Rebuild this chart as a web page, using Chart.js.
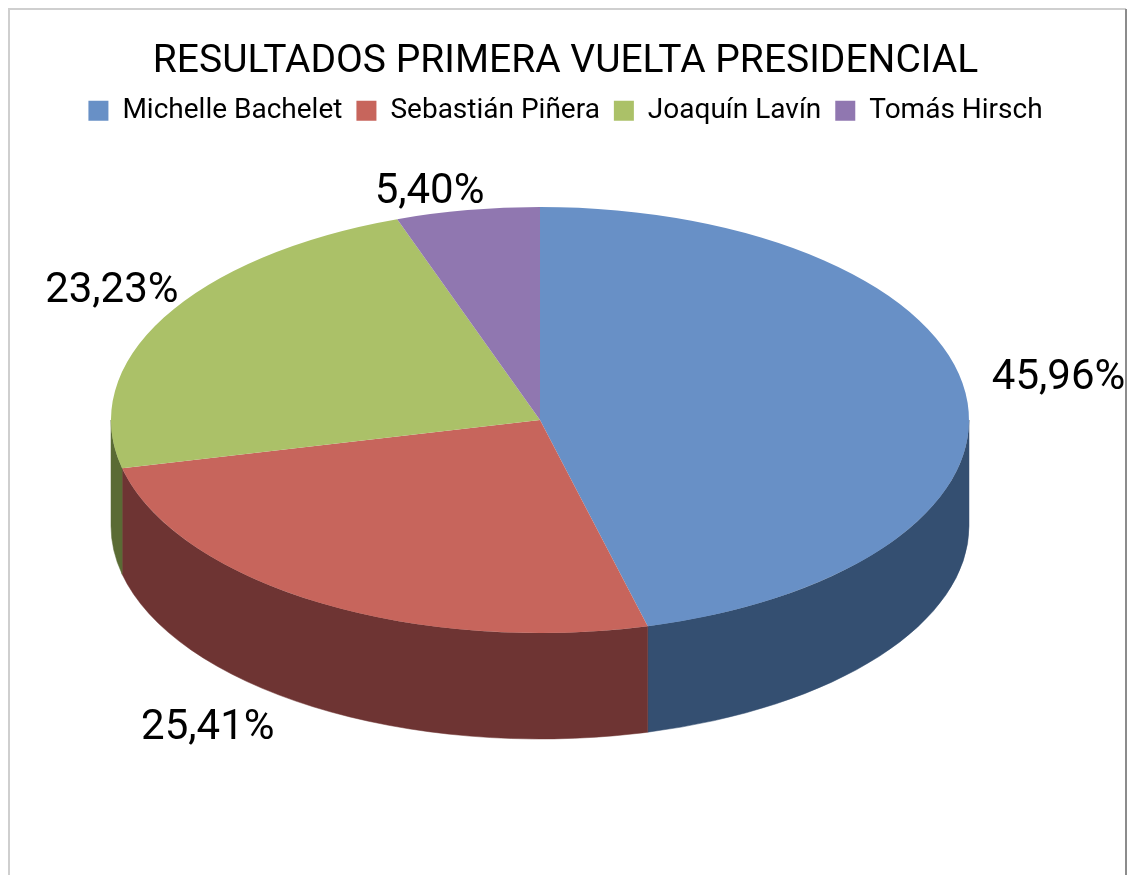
<!DOCTYPE html>
<html>
<head>
<meta charset="utf-8">
<script src="https://cdn.jsdelivr.net/npm/chart.js@4.4.1/dist/chart.umd.min.js"></script>
<style>
  html, body { margin: 0; padding: 0; background: #ffffff; }
  #wrap { position: relative; width: 1131px; height: 875px; }
</style>
</head>
<body>
<div id="wrap"><canvas id="c" width="1131" height="875"></canvas></div>
<script>
// ---- data ----
const candidates = ['Michelle Bachelet', 'Sebastián Piñera', 'Joaquín Lavín', 'Tomás Hirsch'];
const percentages = [45.96, 25.41, 23.23, 5.40];
const valueLabels = ['45,96%', '25,41%', '23,23%', '5,40%'];

// ---- styles ----
const topColors  = ['#6890C6', '#C7655C', '#ABC168', '#9077B0'];
const sideColors = ['#344F71', '#6E3433', '#5A6B34', '#4B3B60'];
const FONT = 'Roboto, "Liberation Sans", Arial, sans-serif';

// 3D projection of the library's pie (layout, not data)
const proj = { cx: 540, cy: 420, rx: 429, ry: 213, depth: 106 };
// label offsets relative to the projected slice-middle point on the rim
const labelOffsets = [[93, -15], [-110, 126], [-52, -26], [-38, -18]];

function norm(a) {
  while (a < -Math.PI / 2) a += 2 * Math.PI;
  while (a >= 1.5 * Math.PI) a -= 2 * Math.PI;
  return a;
}

const pie3d = {
  id: 'pie3d',
  beforeDraw(chart) {
    const ctx = chart.ctx;
    ctx.save();
    ctx.lineWidth = 2;
    ctx.strokeStyle = '#cfcfcf';
    ctx.beginPath();
    ctx.moveTo(9, 880); ctx.lineTo(9, 9); ctx.lineTo(1126, 9);
    ctx.stroke();
    ctx.strokeStyle = '#8c8c8c';
    ctx.beginPath();
    ctx.moveTo(1126, 9); ctx.lineTo(1126, 880);
    ctx.stroke();
    ctx.restore();
  },
  beforeDatasetsDraw(chart) {
    const ctx = chart.ctx;
    const meta = chart.getDatasetMeta(0);
    const { cx, cy, rx, ry, depth } = proj;
    meta.data.forEach((arc, i) => {
      let s = arc.startAngle, e = arc.endAngle;
      const off = norm(s) - s;
      s += off; e += off;
      const a1 = Math.max(s, 0), a2 = Math.min(e, Math.PI);
      if (a2 <= a1) return;
      ctx.save();
      ctx.fillStyle = sideColors[i];
      ctx.strokeStyle = sideColors[i];
      ctx.lineWidth = 0.5;
      ctx.beginPath();
      ctx.ellipse(cx, cy, rx, ry, 0, a1, a2, false);
      ctx.lineTo(cx + rx * Math.cos(a2), cy + depth + ry * Math.sin(a2));
      ctx.ellipse(cx, cy + depth, rx, ry, 0, a2, a1, true);
      ctx.closePath();
      ctx.fill();
      ctx.stroke();
      ctx.restore();
    });
    const a0 = meta.data[0];
    const r0 = a0.outerRadius;
    ctx.save();
    ctx.translate(cx, cy);
    ctx.scale(rx / r0, ry / r0);
    ctx.translate(-a0.x, -a0.y);
  },
  afterDatasetsDraw(chart) {
    const ctx = chart.ctx;
    ctx.restore();
    const meta = chart.getDatasetMeta(0);
    const { cx, cy, rx, ry } = proj;
    ctx.save();
    ctx.font = '42px ' + FONT;
    ctx.fillStyle = '#000000';
    ctx.textAlign = 'center';
    ctx.textBaseline = 'middle';
    meta.data.forEach((arc, i) => {
      const m = (arc.startAngle + arc.endAngle) / 2;
      const px = cx + rx * Math.cos(m);
      const py = cy + ry * Math.sin(m);
      ctx.fillText(valueLabels[i], px + labelOffsets[i][0], py + labelOffsets[i][1]);
    });
    ctx.restore();
  }
};

new Chart(document.getElementById('c'), {
  type: 'pie',
  data: {
    labels: candidates,
    datasets: [{
      data: percentages,
      backgroundColor: topColors,
      borderWidth: 0
    }]
  },
  options: {
    responsive: false,
    animation: false,
    events: [],
    layout: { padding: { top: 29, left: 20, right: 20, bottom: 20 } },
    plugins: {
      tooltip: { enabled: false },
      title: {
        display: true,
        text: 'RESULTADOS PRIMERA VUELTA PRESIDENCIAL',
        color: '#000000',
        font: { family: FONT, size: 39, weight: 'normal' },
        padding: { top: 10, bottom: -3 }
      },
      legend: {
        position: 'top',
        labels: {
          color: '#000000',
          font: { family: FONT, size: 28 },
          boxWidth: 20,
          boxHeight: 20,
          padding: 14
        }
      }
    }
  },
  plugins: [pie3d]
});
</script>
</body>
</html>
